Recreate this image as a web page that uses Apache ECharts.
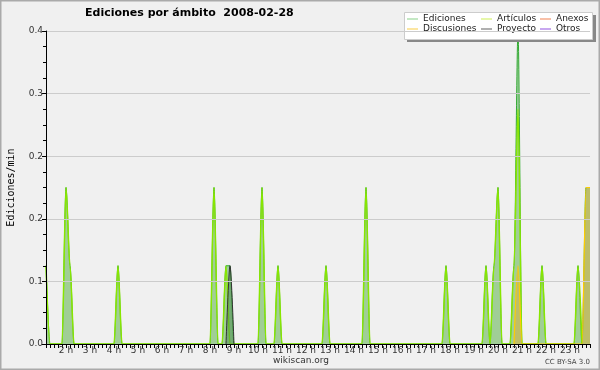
<!DOCTYPE html>
<html>
<head>
<meta charset="utf-8">
<script src="https://cdn.jsdelivr.net/npm/echarts@6/dist/echarts.min.js"></script>
<style>
html,body{margin:0;padding:0;background:#f0f0f0;}
#c{width:600px;height:370px;}
</style>
</head>
<body>
<div id="c"></div>
<script>
// x values are minutes since 00:00, 10-minute buckets; y values in edits/min
const seriesNames = ['Ediciones', 'Artículos', 'Anexos', 'Discusiones', 'Proyecto', 'Otros'];
const ediciones = [
  [70,0.1],[80,0],
  [110,0],[120,0.2],[130,0.1],[140,0],
  [240,0],[250,0.1],[260,0],
  [480,0],[490,0.2],[500,0],
  [510,0],[520,0.1],[530,0.1],[540,0],
  [600,0],[610,0.2],[620,0],
  [640,0],[650,0.1],[660,0],
  [760,0],[770,0.1],[780,0],
  [860,0],[870,0.2],[880,0],
  [1060,0],[1070,0.1],[1080,0],
  [1160,0],[1170,0.1],[1180,0],[1190,0.1],[1200,0.2],[1210,0],
  [1230,0],[1240,0.1],[1250,0.4],[1260,0],
  [1300,0],[1310,0.1],[1320,0],
  [1390,0],[1400,0.1],[1410,0],[1420,0.2],[1430,0.2]
];
const articulos = [
  [70,0.1],[80,0],
  [110,0],[120,0.2],[130,0.1],[140,0],
  [240,0],[250,0.1],[260,0],
  [480,0],[490,0.2],[500,0],
  [510,0],[520,0.1],[530,0],
  [600,0],[610,0.2],[620,0],
  [640,0],[650,0.1],[660,0],
  [760,0],[770,0.1],[780,0],
  [860,0],[870,0.2],[880,0],
  [1060,0],[1070,0.1],[1080,0],
  [1160,0],[1170,0.1],[1180,0],[1190,0.1],[1200,0.2],[1210,0],
  [1230,0],[1240,0.1],[1250,0.3],[1260,0],
  [1300,0],[1310,0.1],[1320,0],
  [1390,0],[1400,0.1],[1410,0]
];
const anexos = [];
const discusiones = [
  [1240,0],[1250,0.1],[1260,0],
  [1410,0],[1420,0.2],[1430,0.2]
];
const proyecto = [
  [520,0],[530,0.1],[540,0]
];
const otros = [];
const xMin = 70, xMax = 1430, xStep = 10;
const yMax = 0.4, yStep = 0.08;

const chart = echarts.init(document.getElementById('c'), null, {renderer: 'canvas'});
const font = 'DejaVu Sans';
function lineSeries(name, data, legendColor, lineColor, lineWidth, areaColor, areaOpacity, z) {
  const s = {
    name: name, type: 'line', data: data, color: legendColor,
    showSymbol: false, symbol: 'none', smooth: 0.3, smoothMonotone: 'x', z: z,
    lineStyle: {color: lineColor, width: lineWidth},
    emphasis: {disabled: true}, animation: false
  };
  if (areaColor) s.areaStyle = {color: areaColor, opacity: areaOpacity};
  return s;
}
const legendCommon = {
  orient: 'vertical', top: 14, itemGap: 0, itemWidth: 11, itemHeight: 1, icon: 'rect',
  padding: 0, z: 10, selectedMode: false,
  textStyle: {fontFamily: font, fontSize: 9, color: '#222', lineHeight: 10}
};
chart.setOption({
  backgroundColor: '#f0f0f0',
  animation: false,
  title: {
    text: 'Ediciones por ámbito  2008-02-28', left: 85, top: 8, padding: 0,
    textStyle: {fontFamily: font, fontSize: 11, fontWeight: 'bold', color: '#000'}
  },
  legend: [
    Object.assign({left: 407, data: [seriesNames[0], seriesNames[3]]}, legendCommon),
    Object.assign({left: 481, data: [seriesNames[1], seriesNames[4]]}, legendCommon),
    Object.assign({left: 540, data: [seriesNames[2], seriesNames[5]]}, legendCommon)
  ],
  graphic: [
    {type: 'rect', shape: {x: 0.75, y: 0.75, width: 598.5, height: 368.5}, style: {fill: 'none', stroke: '#aaaaaa', lineWidth: 1.5}, z: 0, silent: true},
    {type: 'rect', shape: {x: 407, y: 15, width: 189, height: 27}, style: {fill: '#888888'}, z: 5, silent: true},
    {type: 'rect', shape: {x: 404.5, y: 12.5, width: 188, height: 27}, style: {fill: '#ffffff', stroke: '#cccccc', lineWidth: 1}, z: 6, silent: true},
    {type: 'text', x: 301, y: 361, style: {text: 'wikiscan.org', font: '9px "DejaVu Sans"', fill: '#333', align: 'center', verticalAlign: 'middle'}, z: 6, silent: true},
    {type: 'text', x: 590, y: 362, style: {text: 'CC BY-SA 3.0', font: '7px "DejaVu Sans"', fill: '#444', align: 'right', verticalAlign: 'middle'}, z: 6, silent: true}
  ],
  grid: {left: 46, right: 10, top: 31, bottom: 26, containLabel: false, outerBoundsMode: 'none'},
  xAxis: {
    type: 'value', min: xMin, max: xMax, interval: xStep, z: 20,
    axisLine: {show: true, lineStyle: {color: '#000', width: 1}},
    axisTick: {show: true, length: 4, inside: false, lineStyle: {color: '#000'}},
    splitLine: {show: false},
    axisLabel: {
      margin: 2, fontFamily: font, fontSize: 9, color: '#333',
      showMinLabel: true, showMaxLabel: true,
      formatter: function (v) { return v % 60 === 0 ? (v / 60) + ' h' : ''; }
    }
  },
  yAxis: {
    type: 'value', min: 0, max: yMax, interval: yStep, z: 20,
    name: 'Ediciones/min', nameLocation: 'middle', nameGap: 30, nameRotate: 90,
    nameTextStyle: {fontFamily: 'DejaVu Sans Mono', fontSize: 10, color: '#000'},
    axisLine: {show: true, lineStyle: {color: '#000', width: 1}},
    axisTick: {show: true, length: 4, lineStyle: {color: '#000'}},
    minorTick: {show: true, splitNumber: 4, length: 3, lineStyle: {color: '#000'}},
    splitLine: {show: true, lineStyle: {color: '#cccccc', width: 1}},
    axisLabel: {
      margin: 3, fontFamily: font, fontSize: 9, color: '#333',
      formatter: function (v) { return v.toFixed(1); }
    }
  },
  series: [
    lineSeries(seriesNames[0], ediciones, '#88d088', '#33aa33', 1, '#9ccc9c', 1, 2),
    lineSeries(seriesNames[1], articulos, '#ccee55', '#88e600', 1.5, '#a8d08c', 0.35, 3),
    lineSeries(seriesNames[2], anexos, '#f08050', '#f08050', 1, null, 0, 3),
    lineSeries(seriesNames[3], discusiones, '#f8cc44', '#ffcc00', 1.2, '#d8b040', 0.55, 4),
    lineSeries(seriesNames[4], proyecto, '#606060', '#333333', 1, '#4a8a4a', 0.5, 4),
    lineSeries(seriesNames[5], otros, '#9050e0', '#9050e0', 1, null, 0, 3)
  ]
});
</script>
</body>
</html>
